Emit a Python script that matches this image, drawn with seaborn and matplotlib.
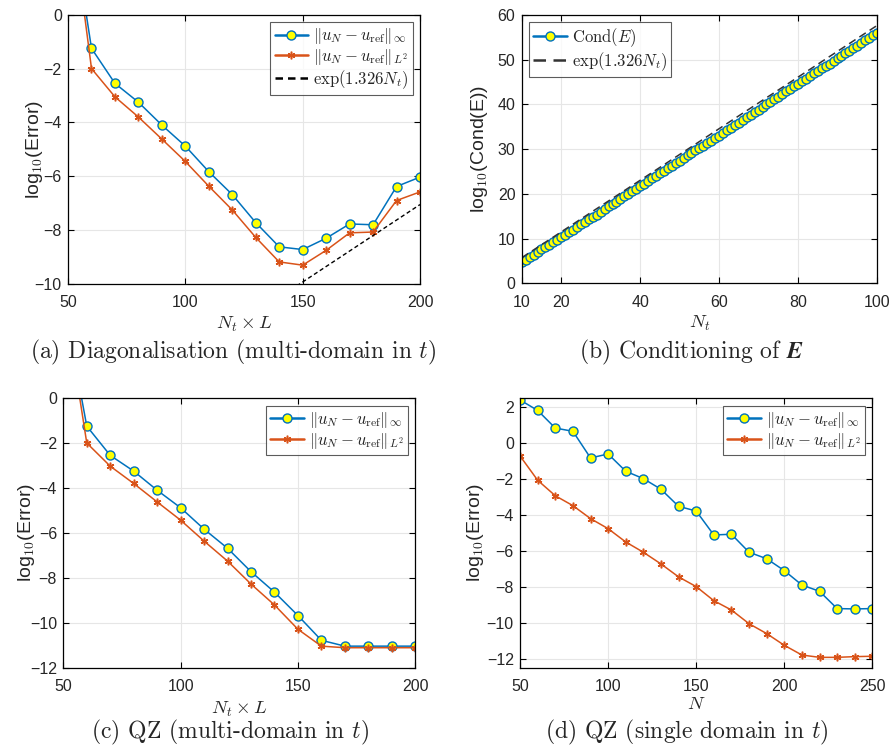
import matplotlib
matplotlib.use("Agg")
import matplotlib.pyplot as plt
import seaborn as sns
import numpy as np

# ---- data ----
# (a) diagonalisation, multi-domain in t
a_x = [50, 60, 70, 80, 90, 100, 110, 120, 130, 140, 150, 160, 170, 180, 190, 200]
a_inf = [4.4, -1.25, -2.55, -3.25, -4.1, -4.88, -5.83, -6.68, -7.72, -8.62, -8.72,
         -8.3, -7.77, -7.8, -6.38, -6.03]
a_l2 = [4.7, -2.0, -3.05, -3.8, -4.62, -5.45, -6.37, -7.25, -8.27, -9.18, -9.3,
        -8.75, -8.1, -8.07, -6.9, -6.58]
a_ref_x = [140, 200]
a_ref_y = [-10.5, -7.05]

# (b) conditioning of E
b_x = list(range(10, 101))
b_cond = [4.8, 5.3, 5.9, 6.4, 7.0, 7.6, 8.1, 8.7, 9.2, 9.8,
          10.3, 10.9, 11.5, 12.0, 12.6, 13.2, 13.7, 14.3, 14.9, 15.4,
          16.0, 16.6, 17.2, 17.7, 18.3, 18.9, 19.5, 20.0, 20.6, 21.2,
          21.8, 22.3, 22.9, 23.5, 24.0, 24.6, 25.2, 25.7, 26.3, 26.9,
          27.4, 28.0, 28.6, 29.1, 29.7, 30.3, 30.8, 31.4, 31.9, 32.5,
          33.0, 33.6, 34.2, 34.8, 35.4, 35.9, 36.5, 37.1, 37.7, 38.2,
          38.8, 39.4, 40.0, 40.5, 41.1, 41.7, 42.3, 42.9, 43.4, 44.0,
          44.6, 45.2, 45.7, 46.3, 46.9, 47.4, 48.0, 48.6, 49.1, 49.7,
          50.3, 50.8, 51.4, 52.0, 52.5, 53.1, 53.7, 54.3, 54.8, 55.4,
          56.0]
b_ref_x = [10, 100]
b_ref_y = [5.76, 57.59]

# (c) QZ, multi-domain in t
c_x = [50, 60, 70, 80, 90, 100, 110, 120, 130, 140, 150, 160, 170, 180, 190, 200]
c_inf = [4.4, -1.25, -2.55, -3.25, -4.1, -4.88, -5.83, -6.68, -7.72, -8.63, -9.67,
         -10.77, -11.03, -11.03, -11.03, -11.03]
c_l2 = [4.7, -2.0, -3.03, -3.8, -4.62, -5.43, -6.36, -7.25, -8.27, -9.2, -10.28,
        -11.03, -11.1, -11.1, -11.1, -11.1]

# (d) QZ, single domain in t
d_x = [50, 60, 70, 80, 90, 100, 110, 120, 130, 140, 150, 160, 170, 180, 190, 200,
       210, 220, 230, 240, 250]
d_inf = [2.39, 1.81, 0.83, 0.65, -0.83, -0.61, -1.57, -1.98, -2.57, -3.52, -3.78,
         -5.11, -5.07, -6.07, -6.43, -7.09, -7.89, -8.24, -9.2, -9.22, -9.2]
d_l2 = [-0.72, -2.07, -2.93, -3.48, -4.2, -4.76, -5.5, -6.07, -6.72, -7.44, -7.98,
        -8.76, -9.28, -10.04, -10.59, -11.24, -11.78, -11.91, -11.91, -11.87, -11.85]

lab_inf = r'$\|u_N - u_{\mathrm{ref}}\|_\infty$'
lab_l2 = r'$\|u_N - u_{\mathrm{ref}}\|_{L^2}$'
lab_exp = r'$\exp(1.326N_t)$'

BLUE = '#0072BD'
ORANGE = '#D95319'

sns.set_style("whitegrid")
plt.rcParams['font.family'] = ['Liberation Sans', 'DejaVu Sans']
plt.rcParams['mathtext.fontset'] = 'cm'

fig = plt.figure(figsize=(8.94, 7.47), dpi=100)


def style_axes(ax, xlim, ylim, xticks, yticks, xlabel, ylabel, xl_pos, yl_pos):
    ax.set_xlim(xlim)
    ax.set_ylim(ylim)
    ax.set_xticks(xticks)
    ax.set_yticks(yticks)
    ax.set_xlabel(xlabel, fontsize=13.5)
    ax.set_ylabel(ylabel, fontsize=14)
    ax.xaxis.set_label_coords(0.5, xl_pos)
    ax.yaxis.set_label_coords(yl_pos, 0.5)
    ax.grid(True, color='#e6e6e6', linewidth=0.8)
    ax.tick_params(axis='both', labelsize=11.5, direction='in', length=4,
                   width=0.8, color='black', top=True, right=True,
                   bottom=True, left=True)
    ax.tick_params(axis='x', pad=8)
    ax.tick_params(axis='y', pad=4.5)
    for s in ax.spines.values():
        s.set_visible(True)
        s.set_color('black')
        s.set_linewidth(0.9)


def err_lines(ax, x, yinf, yl2):
    sns.lineplot(x=x, y=yinf, ax=ax, color=BLUE, linewidth=1.1, marker='o',
                 markersize=6.5, markerfacecolor='#FFFF00', markeredgecolor=BLUE,
                 markeredgewidth=1.0, label=lab_inf, sort=False)
    sns.lineplot(x=x, y=yl2, ax=ax, color=ORANGE, linewidth=1.1, marker=(6, 2, 0),
                 markersize=5.5, markerfacecolor=ORANGE, markeredgecolor=ORANGE,
                 markeredgewidth=1.1, label=lab_l2, sort=False)


def make_legend(ax, loc):
    leg = ax.legend(loc=loc, fontsize=12, frameon=True, fancybox=False,
                    handlelength=2.0, borderpad=0.25, labelspacing=0.05,
                    handletextpad=0.3, borderaxespad=0.45)
    leg.get_frame().set_edgecolor('#333333')
    leg.get_frame().set_linewidth(0.8)
    for h in leg.get_lines():
        h.set_linewidth(1.8)
    return leg


cap_kw = dict(fontsize=17, family='cmr10', ha='center', va='center')
err_label = r'log$_{\mathsf{10}}$(Error)'

# (a)
ax = fig.add_axes([0.0761, 0.6198, 0.3937, 0.3605])
err_lines(ax, a_x, a_inf, a_l2)
sns.lineplot(x=a_ref_x, y=a_ref_y, ax=ax, color='black', linewidth=1.0,
             linestyle=(0, (3, 2)), label=lab_exp)
style_axes(ax, (50, 200), (-10, 0), [50, 100, 150, 200], [-10, -8, -6, -4, -2, 0],
           r'$N_t \times L$', err_label, -0.115, -0.066)
make_legend(ax, 'upper right')
fig.text(233 / 894, 1 - 352 / 747, r'(a) Diagonalisation (multi-domain in $t$)', **cap_kw)

# (b)
ax = fig.add_axes([0.5836, 0.6205, 0.3974, 0.3598])
sns.lineplot(x=b_x, y=b_cond, ax=ax, color=BLUE, linewidth=1.1, marker='o',
             markersize=6.5, markerfacecolor='#FFFF00', markeredgecolor=BLUE,
             markeredgewidth=1.0, label=r'$\mathrm{Cond}(E)$')
sns.lineplot(x=b_ref_x, y=b_ref_y, ax=ax, color='#333333', linewidth=1.1,
             linestyle=(0, (5, 3)), label=lab_exp)
style_axes(ax, (10, 100), (0, 60), [10, 20, 40, 60, 80, 100], [0, 10, 20, 30, 40, 50, 60],
           r'$N_t$', r'log$_{\mathsf{10}}$(Cond(E))', -0.112, -0.09)
make_legend(ax, 'upper left')
fig.text(692 / 894, 1 - 352 / 747, r'(b) Conditioning of $\mathbfit{E}$', **cap_kw)

# (c)
ax = fig.add_axes([0.0708, 0.1058, 0.3937, 0.3614])
err_lines(ax, c_x, c_inf, c_l2)
style_axes(ax, (50, 200), (-12, 0), [50, 100, 150, 200], [-12, -10, -8, -6, -4, -2, 0],
           r'$N_t \times L$', err_label, -0.118, -0.076)
make_legend(ax, 'upper right')
fig.text(230 / 894, 1 - 732 / 747, r'(c) QZ (multi-domain in $t$)', **cap_kw)

# (d)
ax = fig.add_axes([0.5817, 0.1058, 0.3941, 0.3614])
err_lines(ax, d_x, d_inf, d_l2)
style_axes(ax, (50, 250), (-12.5, 2.5), [50, 100, 150, 200, 250],
           [-12, -10, -8, -6, -4, -2, 0, 2], r'$N$', err_label, -0.105, -0.096)
make_legend(ax, 'upper right')
fig.text(687 / 894, 1 - 732 / 747, r'(d) QZ (single domain in $t$)', **cap_kw)

fig.savefig('out.png', dpi=100)
